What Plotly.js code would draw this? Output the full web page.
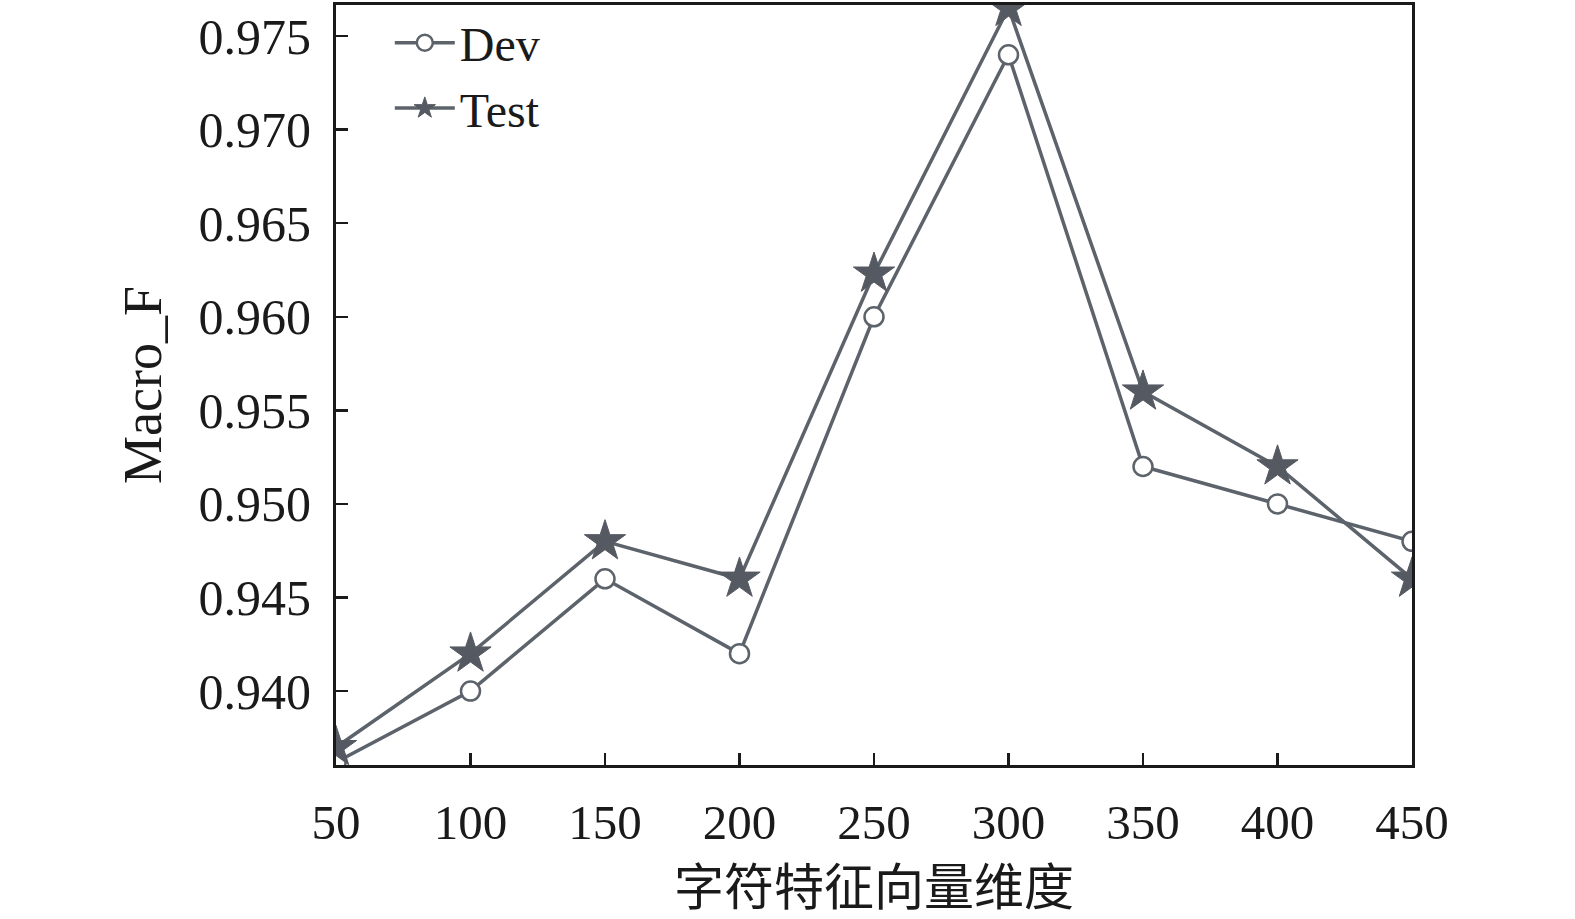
<!DOCTYPE html>
<html>
<head>
<meta charset="utf-8">
<script src="https://cdn.plot.ly/plotly-3.0.1.min.js"></script>
<style>
    html, body { margin: 0; padding: 0; background: #ffffff; }
    #chart { width: 1575px; height: 919px; }
</style>
</head>
<body>
<div id="chart"></div>
<script>
// values
const dims = [50, 100, 150, 200, 250, 300, 350, 400, 450];
const devScores = [0.9362, 0.940, 0.946, 0.942, 0.960, 0.974, 0.952, 0.950, 0.948];
const testScores = [0.9370, 0.942, 0.948, 0.946, 0.9623, 0.9765, 0.956, 0.952, 0.946];
const yTicks = [0.940, 0.945, 0.950, 0.955, 0.960, 0.965, 0.970, 0.975];
const yTickText = ["0.940", "0.945", "0.950", "0.955", "0.960", "0.965", "0.970", "0.975"];

const LINE_COLOR = '#5d636b';
const FONT = '"Liberation Serif", "Times New Roman", "Noto Sans CJK SC", serif';

const data = [
    {
        x: dims,
        y: devScores,
        name: 'Dev',
        type: 'scatter',
        mode: 'lines+markers',
        cliponaxis: true,
        line: { color: LINE_COLOR, width: 3.5 },
        marker: {
            symbol: 'circle',
            size: 19,
            color: '#ffffff',
            line: { color: LINE_COLOR, width: 2.5 }
        }
    },
    {
        x: dims,
        y: testScores,
        name: 'Test',
        type: 'scatter',
        mode: 'lines+markers',
        cliponaxis: true,
        line: { color: LINE_COLOR, width: 3.5 },
        marker: {
            symbol: 'star',
            size: 31,
            color: '#555a62',
            line: { color: '#555a62', width: 1 }
        }
    }
];

const layout = {
    width: 1575,
    height: 919,
    margin: { l: 336, r: 163, t: 5, b: 154, autoexpand: false },
    paper_bgcolor: '#ffffff',
    plot_bgcolor: '#ffffff',
    font: { family: FONT, size: 50, color: '#1a1a1a' },
    showlegend: true,
    legend: {
        x: 0.05,
        y: 1.0,
        xanchor: 'left',
        yanchor: 'top',
        bgcolor: 'rgba(0,0,0,0)',
        font: { family: FONT, size: 48, color: '#1a1a1a' },
        tracegroupgap: 0,
        itemwidth: 60
    },
    xaxis: {
        range: [50, 450],
        tickvals: dims,
        ticks: 'inside',
        ticklen: 12,
        tickwidth: 2.5,
        tickcolor: '#1a1a1a',
        showline: true,
        linecolor: '#1a1a1a',
        linewidth: 3,
        mirror: true,
        showgrid: false,
        zeroline: false,
        ticklabelstandoff: 12,
        tickfont: { family: FONT, size: 49, color: '#1a1a1a' },
        title: {
            text: '字符特征向量维度',
            font: { family: '"Noto Sans CJK SC", sans-serif', size: 50, color: '#1a1a1a' },
            standoff: 4
        }
    },
    yaxis: {
        range: [0.93605, 0.97666],
        tickvals: yTicks,
        ticktext: yTickText,
        ticks: 'inside',
        ticklen: 12,
        tickwidth: 2.5,
        tickcolor: '#1a1a1a',
        showline: true,
        linecolor: '#1a1a1a',
        linewidth: 3,
        mirror: true,
        showgrid: false,
        zeroline: false,
        ticklabelstandoff: 12,
        tickfont: { family: FONT, size: 50, color: '#1a1a1a' },
        title: {
            text: 'Macro_F',
            font: { family: FONT, size: 54, color: '#1a1a1a' },
            standoff: 20
        }
    }
};

Plotly.newPlot('chart', data, layout, { displayModeBar: false, staticPlot: true });
</script>
</body>
</html>
